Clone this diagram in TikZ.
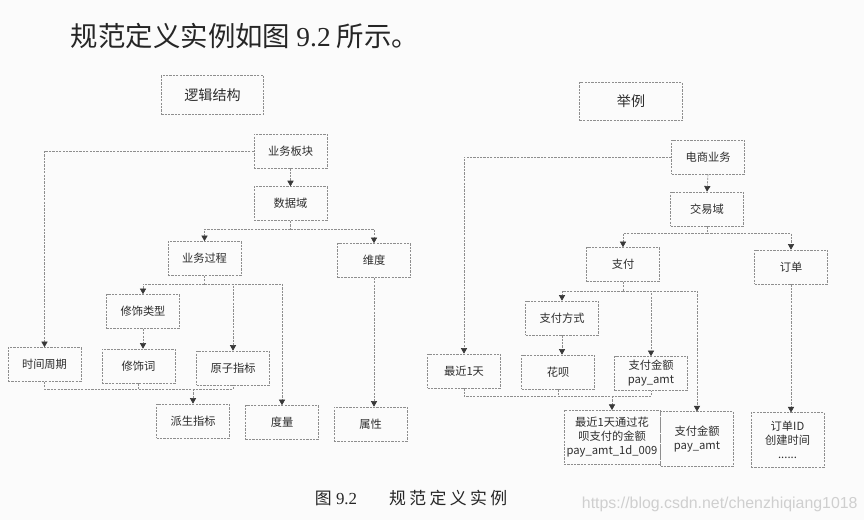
\documentclass[tikz,border=0pt]{standalone}
\usepackage{fontspec}
\setmainfont{Liberation Serif}
\newfontfamily\cjk{Noto Sans CJK SC}
\newfontfamily\cjkwide[LetterSpace=20]{Noto Sans CJK SC}
\newfontfamily\urlfont{Liberation Sans}
\usetikzlibrary{positioning, arrows.meta, calc}
\definecolor{clrborder}{HTML}{8E8E8E}
\definecolor{clrline}{HTML}{8E8E8E}
\definecolor{clrtip}{HTML}{383838}
\definecolor{clrtext}{HTML}{2E2E2E}
\definecolor{clrmark}{HTML}{CFCFCF}
\definecolor{clrpaper}{HTML}{FBFBFB}

\begin{document}
\begin{tikzpicture}[
    x=0.025cm, y=-0.025cm,
    every node/.style={font=\cjk\fontsize{8}{10}\selectfont, text=clrtext},
    block/.style={draw=clrborder, dash pattern=on 1.6pt off 0.8pt, line width=0.45pt,
                  minimum width=1.82cm, minimum height=0.85cm, inner sep=1pt, align=center},
    headbox/.style={block, minimum width=2.56cm, minimum height=0.96cm,
                    font=\cjk\fontsize{10}{12}\selectfont},
    tallbox/.style={block, minimum height=1.36cm},
    line/.style={draw=clrline, dash pattern=on 1.6pt off 0.8pt, line width=0.45pt},
    arrow/.style={line, -{Triangle[length=4pt, width=4.4pt, fill=clrtip, color=clrtip]}},
    heading/.style={font=\cjk\fontsize{19.5}{24}\selectfont, text=black!85},
    caption/.style={font=\fontsize{12}{14}\selectfont, text=black!85},
    watermark/.style={font=\urlfont\fontsize{11.3}{13}\selectfont, text=clrmark},
]
\path[fill=clrpaper, use as bounding box] (0,0) rectangle (864,520);
\node[heading, anchor=base west] (n_title) at (66,46) {规范定义实例如图 {\rmfamily 9.2} 所示。};
% logical structure
\node[headbox] (n_logic) at (212.5,95) {逻辑结构};
\node[block] (n_bizarea) at (290.5,151) {业务板块};
\node[block, below=0.45cm of n_bizarea] (n_domain) {数据域};
\node[block] (n_process) at (204.5,258.5) {业务过程};
\node[block] (n_dim) at (374,260.5) {维度};
\node[block] (n_modtype) at (143,311.5) {修饰类型};
\node[block] (n_period) at (44.5,364.5) {时间周期};
\node[block] (n_modword) at (138.5,366) {修饰词};
\node[block] (n_atomic) at (233,368) {原子指标};
\node[block] (n_derived) at (193,421) {派生指标};
\node[block] (n_measure) at (282,422.5) {度量};
\node[block] (n_attr) at (370.5,424) {属性};
\coordinate (j_domain) at ($(n_domain.south)+(0,8)$);
\coordinate (j_process) at ($(n_process.south)+(0,8)$);
\coordinate (j_derived) at (193,389);
\draw[arrow] (n_bizarea.west) -| (n_period.north);
\draw[arrow] (n_bizarea.south) -- (n_domain.north);
\draw[line] (n_domain.south) -- (j_domain);
\draw[arrow] (j_domain) -| (n_process.north);
\draw[arrow] (j_domain) -| (n_dim.north);
\draw[line] (n_process.south) -- (j_process);
\draw[arrow] (j_process) -| (n_modtype.north);
\draw[arrow] (j_process) -| (n_atomic.north);
\draw[arrow] (j_process) -| (n_measure.north);
\draw[arrow] (n_modtype.south) -- (n_modtype.south |- n_modword.north);
\draw[arrow] (n_dim.south) -- (n_dim.south |- n_attr.north);
\draw[line] (n_period.south) |- (j_derived) -| (n_atomic.south);
\draw[line] (n_modword.south) -- (n_modword.south |- j_derived);
\draw[arrow] (j_derived) -- (n_derived.north);
% example
\node[headbox] (n_example) at (631,101.5) {举例};
\node[block] (n_ecom) at (708,157) {电商业务};
\node[block] (n_trade) at (707,209) {交易域};
\node[block] (n_pay) at (623,264.5) {支付};
\node[block] (n_order) at (791,267) {订单};
\node[block] (n_paytype) at (562,318) {支付方式};
\node[block] (n_lastday) at (464,371) {最近1天};
\node[block] (n_huabei) at (558,372) {花呗};
\node[block] (n_payamt) at (651,373.5) {支付金额\\pay\_amt};
\node[tallbox, minimum width=2.4cm] (n_derivedamt) at (612,437.5) {最近1天通过花\\呗支付的金额\\pay\_amt\_1d\_009};
\node[tallbox] (n_measureamt) at (697,439) {支付金额\\pay\_amt};
\node[tallbox] (n_orderattr) at (787.5,440) {订单ID\\创建时间\\......};
\coordinate (j_trade) at ($(n_trade.south)+(0,7)$);
\coordinate (j_pay) at ($(n_pay.south)+(0,9)$);
\coordinate (j_derivedamt) at (612,396);
\draw[arrow] (n_ecom.west) -| (n_lastday.north);
\draw[arrow] (n_ecom.south) -- (n_trade.north);
\draw[line] (n_trade.south) -- (j_trade);
\draw[arrow] (j_trade) -| (n_pay.north);
\draw[arrow] (j_trade) -| (n_order.north);
\draw[line] (n_pay.south) -- (j_pay);
\draw[arrow] (j_pay) -| (n_paytype.north);
\draw[arrow] (j_pay) -| (n_payamt.north);
\draw[arrow] (j_pay) -| (n_measureamt.north);
\draw[arrow] (n_paytype.south) -- (n_paytype.south |- n_huabei.north);
\draw[arrow] (n_order.south) -- (n_order.south |- n_orderattr.north);
\draw[line] (n_lastday.south) |- (j_derivedamt) -| (n_payamt.south);
\draw[line] (n_huabei.south) -- (n_huabei.south |- j_derivedamt);
\draw[arrow] (j_derivedamt) -- (n_derivedamt.north);
% caption
\node[caption, anchor=base west] (n_caption) at (310,504) {{\cjk 图}\kern3pt 9.2\hspace{0.8cm}{\cjkwide 规范定义实例}};
\node[watermark, anchor=base west] (n_mark) at (577,508) {https://blog.csdn.net/chenzhiqiang1018};
\end{tikzpicture}
\end{document}
